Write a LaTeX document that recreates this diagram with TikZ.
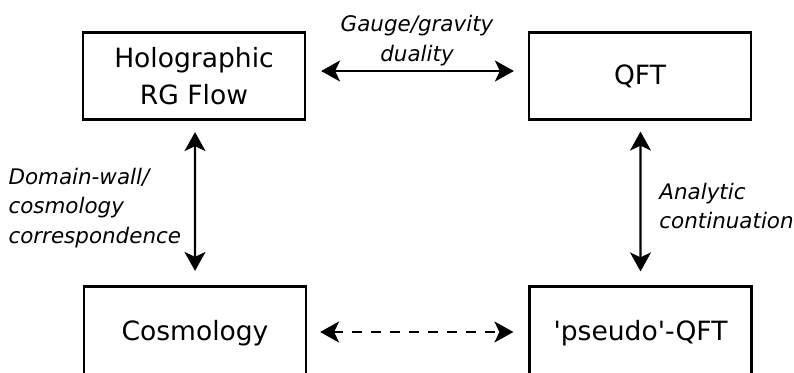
\documentclass[tikz,border=0pt]{standalone}
\usepackage{fontspec}
\setmainfont{DejaVu Sans}
\usepackage{tikz}
\usetikzlibrary{arrows.meta,positioning,calc}

\begin{document}
\begin{tikzpicture}[
    theory/.style={draw,line width=1.25pt,minimum width=4.44cm,minimum height=1.74cm,
      align=center,font=\fontsize{15.1}{20.8}\selectfont},
    link/.style={line width=1.2pt,{Stealth[length=0.38cm,width=0.42cm,inset=0.1cm]}-{Stealth[length=0.38cm,width=0.42cm,inset=0.1cm]}},
    linklabel/.style={font=\itshape\fontsize{12.2}{16.6}\selectfont}
  ]
    \useasboundingbox (0,0) rectangle (15.88,7.44);
    \clip (0,0) rectangle (15.88,7.44);
    \node[theory] (holo) at (3.88,5.92) {Holographic\\RG Flow};
    \node[theory] (qft) at (12.8,5.92) {QFT};
    \node[theory,minimum height=1.86cm] (cosmo) at (3.9,0.78) {Cosmology};
    \node[theory,minimum height=1.86cm] (pqft) at (12.81,0.78) {\textquotesingle pseudo\textquotesingle-QFT};
    \draw[link,shorten <=0.3cm,shorten >=0.28cm] ([yshift=0.1cm]holo.east) -- ([yshift=0.1cm]qft.west)
      node[midway,above=-0.03cm,linklabel,align=center] {Gauge/gravity\\duality};
    \draw[link,shorten <=0.23cm,shorten >=0.29cm] ([xshift=0.02cm]holo.south) -- (cosmo.north)
      node[midway,left=0.14cm,yshift=-0.1cm,linklabel,align=left] {Domain-wall/\\cosmology\\correspondence};
    \draw[link,shorten <=0.22cm,shorten >=0.28cm] ([xshift=0.01cm]qft.south) -- (pqft.north)
      node[midway,right=0.24cm,yshift=-0.06cm,linklabel,align=left] {Analytic\\continuation};
    \draw[link,dash pattern=on 0.2cm off 0.18cm,shorten <=0.26cm,shorten >=0.3cm]
      ([yshift=0.02cm]cosmo.east) -- ([yshift=0.02cm]pqft.west);
  \end{tikzpicture}
\end{document}
